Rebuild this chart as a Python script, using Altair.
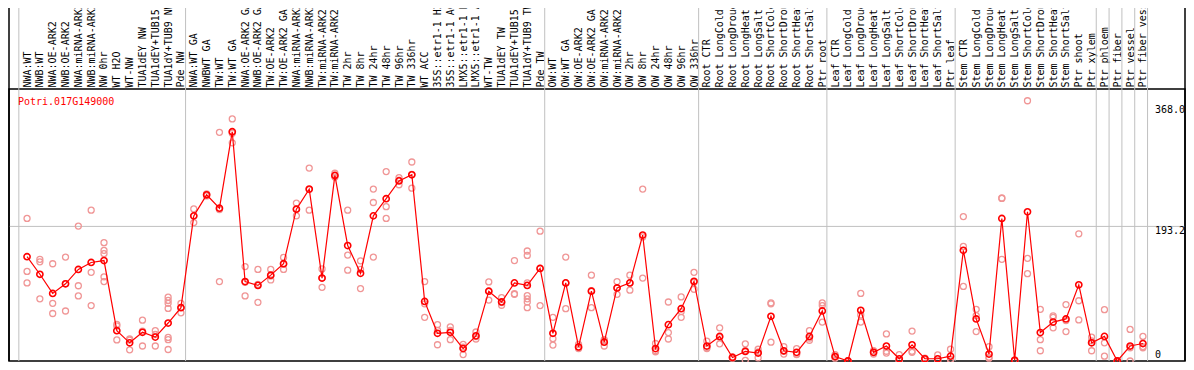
import json
import pandas as pd
import altair as alt

title_text = "Potri.017G149000"

labels = [
    "NWA:WT", "NWB:WT", "NWA:OE-ARK2", "NWB:OE-ARK2", "NWA:miRNA-ARK2", "NWB:miRNA-ARK2",
    "NW 0hr", "WT H2O", "WT-NW", "TUA1dEY NW", "TUA1dEY+TUB15", "TUA1dY+TUB9 NW", "Pde NW",
    "NWA:WT GA", "NWBWT GA", "TW:WT", "TW:WT GA", "NWA:OE-ARK2 GA", "NWB:OE-ARK2 GA",
    "TW:OE-ARK2", "TW:OE-ARK2 GA", "NWA:miRNA-ARK2", "NWB:miRNA-ARK2", "TW:miRNA-ARK2",
    "TW:miRNA-ARK2", "TW 2hr", "TW 8hr", "TW 24hr", "TW 48hr", "TW 96hr", "TW 336hr",
    "WT ACC", "35S::etr1-1 H2", "35S::etr1-1 AC", "LMX5::etr1-1 H", "LMX5::etr1-1 A",
    "WT-TW", "TUA1dEY TW", "TUA1dEY+TUB15", "TUA1dY+TUB9 TW", "Pde TW",
    "OW:WT", "OW:WT GA", "OW:OE-ARK2", "OW:OE-ARK2 GA", "OW:miRNA-ARK2", "OW:miRNA-ARK2",
    "OW 2hr", "OW 8hr", "OW 24hr", "OW 48hr", "OW 96hr", "OW 336hr",
    "Root CTR", "Root LongCold", "Root LongDroug", "Root LongHeat", "Root LongSalt",
    "Root ShortCold", "Root ShortDrou", "Root ShortHeat", "Root ShortSalt", "Ptr root",
    "Leaf CTR", "Leaf LongCold", "Leaf LongDroug", "Leaf LongHeat", "Leaf LongSalt",
    "Leaf ShortCold", "Leaf ShortDrou", "Leaf ShortHeat", "Leaf ShortSalt", "Ptr leaf",
    "Stem CTR", "Stem LongCold", "Stem LongDroug", "Stem LongHeat", "Stem LongSalt",
    "Stem ShortCold", "Stem ShortDrou", "Stem ShortHeat", "Stem ShortSalt", "Ptr shoot",
    "Ptr xylem", "Ptr phloem", "Ptr fiber", "Ptr vessel", "Ptr fiber vess",
]

means = [
    149.7, 124.5, 97.0, 110.8, 131.4, 141.4, 144.2, 43.5, 26.1, 41.2, 34.3, 54.5, 76.5,
    208.3, 238.5, 219.3, 329.1, 114.0, 108.5, 123.2, 139.6, 217.9, 246.7, 119.0, 266.4,
    165.7, 125.9, 208.3, 233.0, 258.5, 267.3, 85.5, 39.8, 41.2, 17.8, 36.1, 100.2, 84.7,
    112.1, 108.5, 132.8,
    39.8, 112.1, 20.2, 100.2, 27.0, 104.8, 112.1, 180.8, 17.8, 52.2, 75.1, 114.4,
    21.5, 35.3, 5.1, 13.7, 11.4, 64.1, 14.7, 12.4, 35.3, 71.8,
    6.4, 0.0, 72.8, 12.4, 21.5, 3.2, 23.3, 3.2, 3.2, 6.9,
    158.9, 60.4, 10.0, 204.6, 1.0, 214.2, 40.8, 55.9, 60.4, 109.4,
    26.1, 35.3, 0.0, 21.5, 25.1,
]

reps = [
    [204.6, 128.6, 112.1], [146.0, 142.3, 89.2], [139.6, 82.8, 68.2], [149.2, 71.8, 111.0],
    [193.6, 108.0, 93.4], [216.5, 127.3, 79.6], [169.8, 158.9, 154.2, 120.8, 114.0],
    [52.6, 50.4, 30.2], [31.6, 16.0, 30.0], [58.6, 21.5, 43.0], [43.5, 21.5, 38.0],
    [91.6, 86.9, 82.8, 75.5, 33.9, 30.6, 16.5], [82.8, 69.1, 77.0],
    [218.3, 198.7, 208.0], [240.0, 237.0, 238.5], [328.2, 217.4, 114.0], [347.4, 313.1, 327.0],
    [135.5, 93.4, 113.0], [131.4, 84.2, 110.0], [131.4, 116.3, 122.0], [148.7, 131.4, 139.0],
    [226.6, 208.3, 218.0], [276.9, 216.5, 246.0], [132.2, 105.7, 119.0], [269.5, 264.0, 266.0],
    [216.5, 152.0, 130.4], [143.8, 131.4, 103.9], [246.7, 227.5, 149.2], [271.9, 221.5, 204.6],
    [263.2, 259.5, 253.0], [285.6, 248.1, 268.0], [114.0, 82.0, 62.7], [52.2, 23.3, 44.0],
    [49.0, 30.6, 44.0], [23.8, 9.2, 20.0], [41.6, 31.6, 35.0], [113.5, 87.4, 100.0],
    [91.0, 80.0, 84.0], [144.2, 95.7, 96.5], [157.9, 151.5, 112.1, 93.8, 89.2, 84.7, 76.5],
    [186.3, 79.6, 133.0],
    [62.7, 32.0, 22.9], [149.2, 75.1, 112.0], [23.8, 17.8, 19.0], [123.2, 76.5, 101.0],
    [30.6, 21.5, 29.0], [114.0, 95.7, 105.0], [123.2, 101.6, 112.0], [246.7, 178.1, 119.0],
    [25.1, 13.3, 15.0], [84.7, 40.8, 31.6], [92.0, 62.7, 71.0], [127.3, 103.0, 113.0],
    [28.4, 17.8, 19.0], [47.6, 24.7, 34.0], [6.0, 4.0, 5.0], [24.7, 1.0, 15.0],
    [16.9, 4.5, 13.0], [83.3, 82.0, 27.0], [20.6, 10.0, 14.0], [17.8, 9.2, 10.0],
    [43.5, 29.8, 33.0], [83.3, 79.6, 55.9],
    [9.0, 4.0, 6.0], [0.0, 0.0, 0.5], [97.0, 55.9, 66.0], [14.7, 10.0, 12.0],
    [38.9, 11.4, 14.0], [9.2, 0.0, 0.5], [43.0, 12.4, 14.0], [3.0, 2.0, 4.0],
    [8.7, 1.0, 0.0], [16.9, 2.0, 2.0],
    [164.4, 107.1, 207.3], [74.1, 42.2, 65.0], [20.6, 5.5, 4.0], [233.4, 234.0, 146.0],
    [1.0, 0.5, 1.5], [147.3, 125.4, 373.5], [74.1, 30.6, 14.7], [64.9, 62.7, 47.6],
    [81.0, 42.2, 58.0], [182.6, 86.5, 59.0],
    [34.3, 14.7, 29.0], [73.7, 26.1, 6.9], [0.0, 0.0, 0.5], [45.3, 0.0, 19.0],
    [35.3, 20.6, 19.0],
]

y_ticks = [368.0, 193.2, 0.0]
y_tick_labels = ["368.0", "193.2", "0"]
grid_values = [193.2]
group_ends = [-1, 12, 40, 52, 62, 72, 83, 84, 85, 86, 87]

assert len(labels) == len(means) == len(reps), (len(labels), len(means), len(reps))

W, H = 1176, 272
PAD_TOP = 81
FONT = "DejaVu Sans Mono"

mean_df = pd.DataFrame({"i": list(range(len(means))), "value": means})
rep_df = pd.DataFrame([{"i": i, "value": v} for i, vs in enumerate(reps) for v in vs])
sep_df = pd.DataFrame({"i": [e + 0.36 for e in group_ends]})
tick_df = pd.DataFrame({"value": y_ticks, "text": y_tick_labels})
grid_df = pd.DataFrame({"value": grid_values})
title_df = pd.DataFrame({"t": [title_text]})
one_df = pd.DataFrame({"a": [0]})

xscale = alt.Scale(domain=[-1.4066, 90.28], nice=False, zero=False)
yscale = alt.Scale(domain=[0, 390.4], nice=False, zero=False)
xaxis = alt.Axis(
    orient="top", values=list(range(len(labels))),
    labelExpr=json.dumps(labels) + "[datum.value]",
    labelAngle=270, labelAlign="left", labelBaseline="middle", labelPadding=2,
    ticks=False, domain=False, grid=False, labelFont=FONT, labelFontSize=10,
    labelColor="black", labelOverlap=False, labelFlush=False, labelBound=False,
    labelLimit=300, title=None,
)

def X(field="i"):
    return alt.X(f"{field}:Q", scale=xscale, axis=xaxis)

def Y(field="value"):
    return alt.Y(f"{field}:Q", scale=yscale, axis=None)

seps = alt.Chart(sep_df).mark_rule(color="#c0c0c0", strokeWidth=1).encode(
    x=X(), y=alt.value(-PAD_TOP), y2=alt.value(H))
grid = alt.Chart(grid_df).mark_rule(color="#c0c0c0", strokeWidth=1).encode(
    y=Y(), x=alt.value(0), x2=alt.value(W))
frame_l = alt.Chart(one_df).mark_rule(color="black", strokeWidth=1.5).encode(
    x=alt.value(0), y=alt.value(-PAD_TOP), y2=alt.value(H))
frame_r = alt.Chart(one_df).mark_rule(color="black", strokeWidth=1.5).encode(
    x=alt.value(W), y=alt.value(-PAD_TOP), y2=alt.value(H))

rep_layer = alt.Chart(rep_df).mark_point(
    shape="circle", filled=False, color="#f09696", size=36, strokeWidth=1.3, opacity=1
).encode(x=X(), y=Y())
line = alt.Chart(mean_df).mark_line(color="#ff0000", strokeWidth=1.2).encode(x=X(), y=Y())
mean_pts = alt.Chart(mean_df).mark_point(
    shape="circle", filled=False, color="#ff0000", size=38, strokeWidth=1.6, opacity=1
).encode(x=X(), y=Y())

ylab_top = alt.Chart(tick_df[tick_df["value"] > 0]).mark_text(
    align="left", baseline="top", font=FONT, fontSize=10, color="black"
).encode(x=alt.value(W - 30), y=Y(), text="text:N")
ylab_bot = alt.Chart(tick_df[tick_df["value"] == 0]).mark_text(
    align="left", baseline="bottom", dy=-1, font=FONT, fontSize=10, color="black"
).encode(x=alt.value(W - 30), y=Y(), text="text:N")

title = alt.Chart(title_df).mark_text(
    align="left", baseline="top", font=FONT, fontSize=10, color="#ff0000"
).encode(x=alt.value(9), y=alt.value(8), text="t:N")

chart = alt.layer(
    seps, grid, rep_layer, line, mean_pts, ylab_top, ylab_bot, title, frame_l, frame_r
).properties(
    width=W, height=H,
    padding={"left": 1, "top": PAD_TOP, "right": 1, "bottom": 1},
    autosize=alt.AutoSizeParams(type="none"),
    background="white",
).configure_view(stroke="black", strokeWidth=1.5)

chart.save("out.html", embed_options={"renderer": "svg", "actions": False})
